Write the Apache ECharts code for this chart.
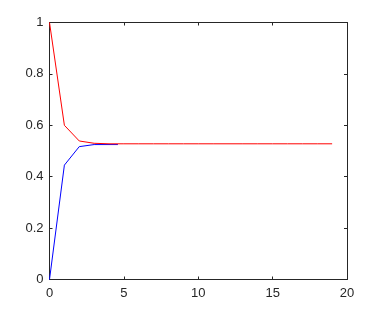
<!DOCTYPE html>
<html><head><meta charset="utf-8">
<script src="https://cdn.jsdelivr.net/npm/echarts@6/dist/echarts.min.js"></script>
<style>html,body{margin:0;padding:0;background:#fff}#c{width:382px;height:312px}</style>
</head><body><div id="c"></div>
<script>
var redX = [0,1,2,3,4,5,6,7,8,9,10,11,12,13,14,15,16,17,18,19];
var redY = [1,0.60,0.539,0.530,0.528,0.528,0.528,0.528,0.528,0.528,0.528,0.528,0.528,0.528,0.528,0.528,0.528,0.528,0.528,0.528];
var blueX = [0,1,2,3,4,4.6];
var blueY = [0,0.445,0.517,0.525,0.525,0.525];
var xTicks = [0,5,10,15,20];
var yTicks = [0,0.2,0.4,0.6,0.8,1];

function pairs(xs, ys){ return xs.map(function(x,i){return [x, ys[i]];}); }
var axisLine = {show:true, onZero:false, lineStyle:{color:'#262626', width:1}};
var tick = {show:true, inside:true, length:3, lineStyle:{color:'#262626'}};
var lbl = {color:'#262626', fontFamily:'Liberation Sans, Arial, sans-serif', fontSize:13};
var chart = echarts.init(document.getElementById('c'));
chart.setOption({
  animation:false,
  backgroundColor:'#fff',
  grid:{left:49.5, right:35, top:22.5, bottom:32.5},
  xAxis:[
    {type:'value', min:0, max:20, interval:5, position:'bottom', axisLine:axisLine, axisTick:tick, splitLine:{show:false},
     axisLabel:Object.assign({margin:7, formatter:function(v){return xTicks.indexOf(v)>=0?String(v):'';}}, lbl)},
    {type:'value', min:0, max:20, interval:5, position:'top', axisLine:axisLine, axisTick:tick, splitLine:{show:false}, axisLabel:{show:false}}
  ],
  yAxis:[
    {type:'value', min:0, max:1, interval:0.2, position:'left', axisLine:axisLine, axisTick:tick, splitLine:{show:false},
     axisLabel:Object.assign({margin:6, formatter:function(v){return String(+v.toFixed(1));}}, lbl)},
    {type:'value', min:0, max:1, interval:0.2, position:'right', axisLine:axisLine, axisTick:tick, splitLine:{show:false}, axisLabel:{show:false}}
  ],
  series:[
    {type:'line', data:pairs(blueX, blueY), showSymbol:false, lineStyle:{color:'#0000ff', width:1}, z:2},
    {type:'line', data:pairs(redX, redY), showSymbol:false, lineStyle:{color:'#ff0000', width:1}, z:3}
  ]
});
</script></body></html>
